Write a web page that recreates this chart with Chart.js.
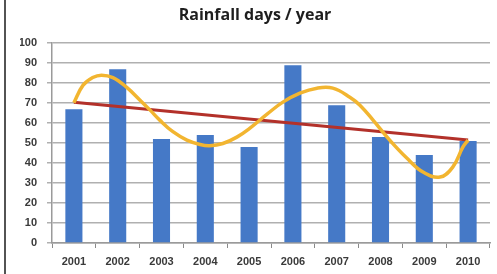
<!DOCTYPE html>
<html>
<head>
<meta charset="utf-8">
<script src="https://cdn.jsdelivr.net/npm/chart.js@4"></script>
<style>
  html, body { margin: 0; padding: 0; background: #ffffff; }
  #wrap { width: 497px; height: 274px; position: relative; }
</style>
</head>
<body>
<div id="wrap"><canvas id="c" width="497" height="274"></canvas></div>
<script>
// ---- data ----
const years = ['2001','2002','2003','2004','2005','2006','2007','2008','2009','2010'];
const rainfallDays = [67, 87, 52, 54, 48, 89, 69, 53, 44, 51];
// linear trend line end points (category positions 1 and 10)
const trendX = [1, 10];
const trendY = [70.5, 51.5];
// smooth polynomial-style trend curve (category position, value)
const curveX = [1.0, 1.21, 1.43, 1.63, 1.89, 2.2, 2.51, 2.74, 2.96, 3.26, 3.58, 3.88, 4.1, 4.4, 4.72, 5.02, 5.41, 5.77, 6.16, 6.55, 6.91, 7.3, 7.53, 7.83, 8.21, 8.6, 8.97, 9.36, 9.65, 9.88, 10.0];
const curveY = [70.2, 79, 82.8, 84, 82.8, 78, 71.5, 66.5, 61.5, 55.7, 51.5, 49.3, 48.7, 49.8, 53, 57.5, 64.5, 70.5, 75, 77.5, 77.5, 73, 69, 61.5, 51.5, 42.5, 35.5, 33, 38, 48, 51.5];
const yTicks = [0, 10, 20, 30, 40, 50, 60, 70, 80, 90, 100];
const titleText = 'Rainfall days / year';

const bgPlugin = {
  id: 'bg',
  beforeDraw(chart) {
    const ctx = chart.ctx;
    ctx.save();
    ctx.fillStyle = '#ffffff';
    ctx.fillRect(0, 0, chart.width, chart.height);
    ctx.strokeStyle = '#1a1a1a';
    ctx.lineWidth = 1.5;
    ctx.beginPath();
    ctx.moveTo(5, 0);
    ctx.lineTo(5, chart.height);
    ctx.stroke();
    ctx.restore();
  }
};

new Chart(document.getElementById('c'), {
  type: 'bar',
  data: {
    labels: years,
    datasets: [
      {
        type: 'line',
        label: 'Trend curve',
        data: curveX.map((x, i) => ({ x: x, y: curveY[i] })),
        xAxisID: 'xc',
        borderColor: '#f2b530',
        borderWidth: 3.5,
        pointRadius: 0,
        tension: 0.4,
        fill: false,
        order: 0
      },
      {
        type: 'line',
        label: 'Linear trend',
        data: trendX.map((x, i) => ({ x: x, y: trendY[i] })),
        xAxisID: 'xc',
        borderColor: '#b3312a',
        borderWidth: 3,
        pointRadius: 0,
        fill: false,
        order: 1
      },
      {
        type: 'bar',
        label: 'Rainfall days',
        data: rainfallDays,
        xAxisID: 'x',
        backgroundColor: '#4579c7',
        grouped: false,
        categoryPercentage: 1.0,
        barPercentage: 0.39,
        order: 2
      }
    ]
  },
  options: {
    responsive: false,
    animation: false,
    devicePixelRatio: 1,
    layout: { padding: { left: 20, right: 7, top: 0, bottom: 0 } },
    plugins: {
      legend: { display: false },
      tooltip: { enabled: false },
      title: {
        display: true,
        text: titleText,
        color: '#1e1e1e',
        font: { family: 'Open Sans', size: 16, weight: 'bold' },
        padding: { top: 6, bottom: 18 }
      }
    },
    scales: {
      x: {
        type: 'category',
        offset: true,
        grid: {
          display: true,
          offset: true,
          drawOnChartArea: false,
          drawTicks: true,
          tickLength: 5,
          color: '#8a8a8a'
        },
        border: { display: true, color: '#9a9a9a', width: 1.5 },
        ticks: {
          color: '#3a3a3a',
          font: { family: 'Liberation Sans', size: 11, weight: 'bold' },
          padding: 7,
          maxRotation: 0,
          autoSkip: false
        },
        afterFit(scale) { scale.height = 31; }
      },
      xc: {
        type: 'linear',
        display: false,
        offset: false,
        min: 0.5,
        max: 10.5
      },
      y: {
        min: 0,
        max: 100,
        afterBuildTicks(scale) { scale.ticks = yTicks.map(v => ({ value: v })); },
        grid: {
          color: '#b0b0b0',
          lineWidth: 1.5,
          tickLength: 5,
          drawTicks: true
        },
        border: { display: true, color: '#9a9a9a', width: 1.5 },
        ticks: {
          color: '#3a3a3a',
          font: { family: 'Liberation Sans', size: 11, weight: 'bold' },
          padding: 10
        },
        afterFit(scale) { scale.width = 32; }
      }
    }
  },
  plugins: [bgPlugin]
});
</script>
</body>
</html>
